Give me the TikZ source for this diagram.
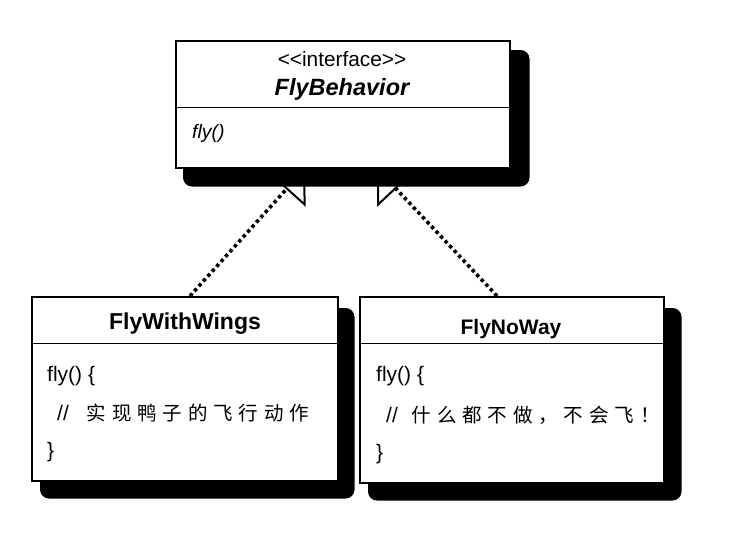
\documentclass[tikz,border=0pt]{standalone}
\usepackage{fontspec}
\setmainfont{Liberation Sans}
\newfontfamily\cjk[LetterSpace=30]{Noto Sans CJK SC}
\usetikzlibrary{arrows.meta,calc,backgrounds}
\begin{document}
\begin{tikzpicture}[x=1pt,y=-1pt,
  umlbox/.style={draw, line width=1.5pt, fill=white, inner sep=0pt, anchor=north west},
  dropshadow/.style={fill=black, rounded corners=9pt},
  divider/.style={line width=1pt},
  txt/.style={inner sep=0pt, anchor=base},
  txtl/.style={inner sep=0pt, anchor=base west},
  dots/.style={line width=3.6pt, line cap=butt, dash pattern=on 3.4pt off 3.2pt,
    -{Triangle[fill=white, length=28pt, width=52pt, line width=2pt]}}
]
\useasboundingbox (0,0) rectangle (742,550);

% boxes
\node[umlbox, minimum width=334pt, minimum height=127pt] (fb) at (175,40) {};
\node[umlbox, minimum width=306pt, minimum height=184pt] (fww) at (31,296) {};
\node[umlbox, minimum width=304pt, minimum height=186pt] (fnw) at (359,296) {};

% dividers
\draw[divider] ($(fb.north west)+(0,67)$) -- ($(fb.north east)+(0,67)$);
\draw[divider] ($(fww.north west)+(0,47)$) -- ($(fww.north east)+(0,47)$);
\draw[divider] ($(fnw.north west)+(0,47)$) -- ($(fnw.north east)+(0,47)$);

% texts: FlyBehavior
\node[txt, font=\fontsize{20.8}{25}\selectfont] (fbst) at (342,66) {<\kern0pt<interface>\kern0pt>};
\node[txt, font=\fontsize{23.5}{28}\selectfont\bfseries\itshape] (fbname) at (342,95) {FlyBehavior};
\node[txtl, font=\fontsize{19.5}{24}\selectfont\itshape] (fbop) at (192,138) {fly()};

% FlyWithWings
\node[txt, font=\fontsize{23}{28}\selectfont\bfseries] (fwwname) at (185,329) {FlyWithWings};
\node[txtl, font=\fontsize{21}{25}\selectfont] (fww1) at (47,381) {fly() \{};
\node[txtl, font=\fontsize{21}{25}\selectfont] (fww2) at (57,420) {//\hspace{18pt}{\cjk\fontsize{19.5}{24}\selectfont 实现鸭子的飞行动作}};
\node[txtl, font=\fontsize{21}{25}\selectfont] (fww3) at (47,457) {\}};

% FlyNoWay
\node[txt, font=\fontsize{21}{25}\selectfont\bfseries] (fnwname) at (511,334) {FlyNoWay};
\node[txtl, font=\fontsize{21}{25}\selectfont] (fnw1) at (376,381) {fly() \{};
\node[txtl, font=\fontsize{21}{25}\selectfont] (fnw2) at (386,422) {//\hspace{14pt}{\cjk\fontsize{19.5}{24}\selectfont 什么都不做，不会飞！}};
\node[txtl, font=\fontsize{21}{25}\selectfont] (fnw3) at (376,459) {\}};

\begin{scope}[on background layer]
  \draw[dots] ($(fww.north west)+(159,0)$) -- ($(fb.south west)+(130,0)$);
  \draw[dots] ($(fnw.north west)+(138,0)$) -- ($(fb.south west)+(202,0)$);
  \fill[dropshadow] ($(fb.north west)+(8,10)$) rectangle ($(fb.south east)+(19,18)$);
  \fill[dropshadow] ($(fww.north west)+(9,12)$) rectangle ($(fww.south east)+(16,17)$);
  \fill[dropshadow] ($(fnw.north west)+(9,12)$) rectangle ($(fnw.south east)+(17,17)$);
\end{scope}
\end{tikzpicture}
\end{document}
